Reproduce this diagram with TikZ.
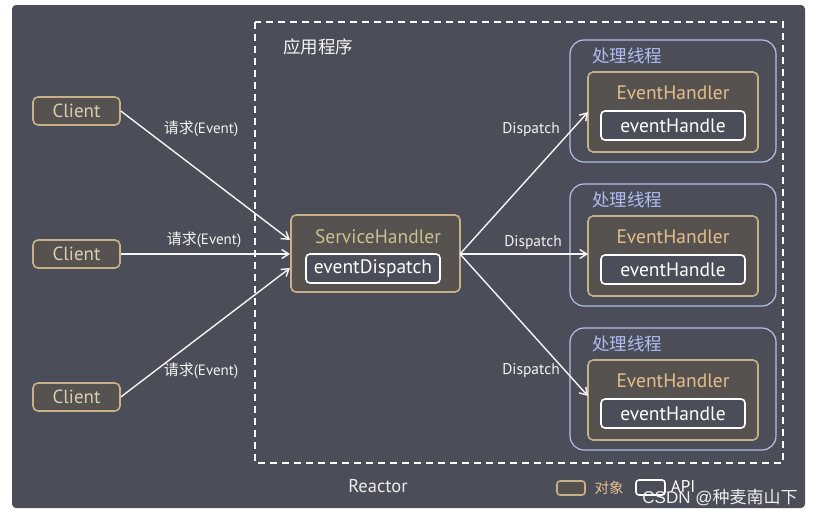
\documentclass[tikz,border=0pt]{standalone}
\usepackage{fontspec}
\setmainfont{PT Sans}
\newfontfamily\cjk{Noto Sans CJK SC}
\usetikzlibrary{arrows.meta}
\definecolor{bgc}{HTML}{4B4D58}
\definecolor{tanc}{HTML}{C8B088}
\definecolor{tantext}{HTML}{D9CDB4}
\definecolor{ehtext}{HTML}{E6BE8C}
\definecolor{shtext}{HTML}{CDBE92}
\definecolor{thrc}{HTML}{B4C0E6}
\definecolor{thrtext}{HTML}{AEBCF2}
\definecolor{objfill}{HTML}{55524F}
\tikzset{
  objbox/.style={draw=tanc, line width=1.6pt, rounded corners=5pt, fill=objfill},
  apibox/.style={draw=white, line width=1.6pt, rounded corners=4pt, fill=bgc},
  thrbox/.style={draw=thrc, line width=1.2pt, rounded corners=14pt},
  conn/.style={draw=white!92!gray, line width=1.4pt, -{Straight Barb[length=7pt,width=9pt]}},
  lbl/.style={text=white!90!gray, font=\fontsize{15}{16}\selectfont},
  dlbl/.style={text=white!90!gray, font=\fontsize{15.5}{16}\selectfont},
  apitext/.style={text=white, font=\fontsize{19.5}{21}\selectfont},
}
\begin{document}
\begin{tikzpicture}[x=1pt,y=-1pt]
\useasboundingbox (0,0) rectangle (818,520);
\fill[white] (0,0) rectangle (818,520);
\fill[bgc, rounded corners=4pt] (12,5) rectangle (805,508);
% application dashed box
\draw[white, line width=1.6pt, dash pattern=on 7pt off 5pt] (255,22) rectangle (783,463);
\node[text=white!92!gray, font=\cjk\fontsize{17.5}{19}\selectfont] (app) at (318,47) {应用程序};
% clients
\foreach \i/\y in {1/111,2/254,3/397}{
  \node[objbox, minimum width=87pt, minimum height=28pt, inner sep=0pt,
        text=tantext, font=\fontsize{19}{21}\selectfont] (c\i) at (76.5,\y) {Client};
}
% service handler
\draw[objbox] (291,215) rectangle (460,292);
\coordinate (shL) at (291,254);
\coordinate (shR) at (460,254);
\node[text=shtext, font=\fontsize{19.5}{21}\selectfont] (shT) at (378,237) {ServiceHandler};
\node[apibox, minimum width=134pt, minimum height=29pt, inner sep=0pt, apitext] (ed) at (373,268.5) {eventDispatch};
% thread boxes
\foreach \i/\t in {1/40,2/184,3/328}{
  \draw[thrbox] (570,\t) rectangle (776,\t+122);
  \node[text=thrtext, font=\cjk\fontsize{17.5}{19}\selectfont] (thl\i) at (627,\t+16) {处理线程};
  \draw[objbox] (588,\t+32) rectangle (758,\t+112);
  \coordinate (eh\i) at (588,\t+72);
  \node[text=ehtext, font=\fontsize{19.5}{21}\selectfont] (eht\i) at (673,\t+53) {EventHandler};
  \node[apibox, minimum width=144pt, minimum height=29pt, inner sep=0pt, apitext] (eha\i) at (673,\t+85.5) {eventHandle};
}
% connectors
\coordinate (in1) at (290,240);
\coordinate (in2) at (290,254);
\coordinate (in3) at (290,268);
\draw[conn] (c1.east) -- (in1);
\draw[conn] (c2.east) -- (in2);
\draw[conn] (c3.east) -- (in3);
\node[lbl] (l1) at (201,129) {\cjk 请求\fontspec{PT Sans}(Event)};
\node[lbl] (l2) at (204,240) {\cjk 请求\fontspec{PT Sans}(Event)};
\node[lbl] (l3) at (201,371) {\cjk 请求\fontspec{PT Sans}(Event)};
\coordinate (d1) at (588,112);
\coordinate (d2) at (588,254);
\coordinate (d3) at (588,396);
\draw[conn] (shR) -- (d1);
\draw[conn] (shR) -- (d2);
\draw[conn] (shR) -- (d3);
\node[dlbl] (dl1) at (531,130) {Dispatch};
\node[dlbl] (dl2) at (533,243) {Dispatch};
\node[dlbl] (dl3) at (531,371) {Dispatch};
% legend
\node[text=white!85!gray, font=\fontsize{18.5}{20}\selectfont] (reactor) at (378,486) {Reactor};
\draw[objbox, rounded corners=3pt] (557,481) rectangle (585,495);
\node[text=ehtext, font=\cjk\fontsize{14.5}{16}\selectfont] (objl) at (609,488) {对象};
\draw[apibox, rounded corners=3pt] (636,480) rectangle (665,495);
\node[text=white, font=\fontsize{17}{18}\selectfont] (apil) at (683,486) {API};
\node[text=white!88!gray, font=\cjk\fontsize{17}{18}\selectfont] (wm) at (720,498) {\fontspec{Liberation Sans}CSDN @\cjk 种麦南山下};
\end{tikzpicture}
\end{document}
